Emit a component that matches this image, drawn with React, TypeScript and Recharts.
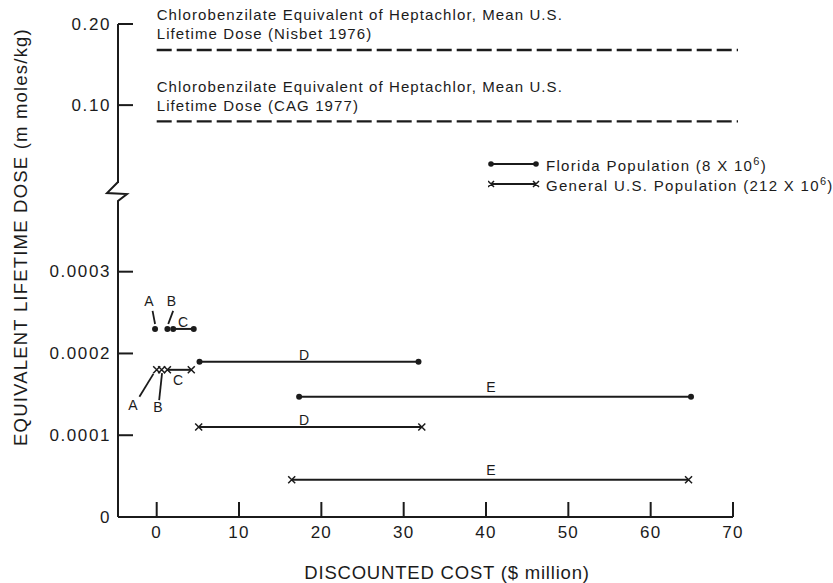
import React from "react";
import { ScatterChart, Scatter, XAxis, YAxis } from "recharts";

const FONT = '"Liberation Sans", Arial, Helvetica, sans-serif';
const INK = "#1b1b1b";

// axis ticks (x: discounted cost, $ million; y: dose, m moles/kg)
const xTicks = [0, 10, 20, 30, 40, 50, 60, 70];
const lowTicks = [0, 0.0001, 0.0002, 0.0003];
const highTicks = [0.1, 0.2];

// chlorobenzilate equivalent of heptachlor, mean U.S. lifetime dose
const nisbetDose = [
  { x: 0, y: 0.168 },
  { x: 70.6, y: 0.168 },
];
const cagDose = [
  { x: 0, y: 0.08 },
  { x: 70.6, y: 0.08 },
];
const nisbetText = ["Chlorobenzilate Equivalent of Heptachlor, Mean U.S.", "Lifetime Dose (Nisbet 1976)"];
const cagText = ["Chlorobenzilate Equivalent of Heptachlor, Mean U.S.", "Lifetime Dose (CAG 1977)"];

// Florida population (8 x 10^6)
const floridaA = [{ x: -0.2, y: 0.00023 }];
const floridaB = [{ x: 1.3, y: 0.00023 }];
const floridaC = [
  { x: 2.0, y: 0.00023 },
  { x: 4.5, y: 0.00023 },
];
const floridaD = [
  { x: 5.2, y: 0.00019 },
  { x: 31.8, y: 0.00019 },
];
const floridaE = [
  { x: 17.3, y: 0.000147 },
  { x: 64.9, y: 0.000147 },
];

// General U.S. population (212 x 10^6)
const generalA = [{ x: 0, y: 0.00018 }];
const generalB = [{ x: 0.6, y: 0.00018 }];
const generalC = [
  { x: 1.3, y: 0.00018 },
  { x: 4.2, y: 0.00018 },
];
const generalD = [
  { x: 5.1, y: 0.00011 },
  { x: 32.2, y: 0.00011 },
];
const generalE = [
  { x: 16.4, y: 0.0000455 },
  { x: 64.6, y: 0.0000455 },
];

// option letters and their leader lines
const floridaTags = [
  { tag: "A", x: -0.95, y: 0.000264 },
  { tag: "B", x: 1.8, y: 0.000264 },
  { tag: "C", x: 3.2, y: 0.000239 },
  { tag: "D", x: 17.9, y: 0.000198 },
  { tag: "E", x: 40.6, y: 0.000159 },
];
const generalTags = [
  { tag: "A", x: -2.9, y: 0.000137 },
  { tag: "B", x: 0.15, y: 0.000134 },
  { tag: "C", x: 2.6, y: 0.000168 },
  { tag: "D", x: 17.9, y: 0.000119 },
  { tag: "E", x: 40.6, y: 0.0000575 },
];
const floridaLeadA = [
  { x: -0.5, y: 0.000252 },
  { x: -0.2, y: 0.000236 },
];
const floridaLeadB = [
  { x: 2.0, y: 0.000252 },
  { x: 1.4, y: 0.000236 },
];
const generalLeadA = [
  { x: -2.1, y: 0.000147 },
  { x: -0.4, y: 0.000175 },
];
const generalLeadB = [
  { x: 0.3, y: 0.000143 },
  { x: 0.65, y: 0.000176 },
];

const dot = (p: any) => <circle cx={p.cx} cy={p.cy} r={3} fill={INK} />;

const cross = (p: any) => {
  const s = 3.5;
  return (
    <path
      d={`M${p.cx - s},${p.cy - s}L${p.cx + s},${p.cy + s}M${p.cx - s},${p.cy + s}L${p.cx + s},${p.cy - s}`}
      stroke={INK}
      strokeWidth={1.5}
    />
  );
};

const none = () => <g />;

const tagShape = (p: any) => (
  <text
    x={p.cx}
    y={p.cy}
    textAnchor="middle"
    dominantBaseline="central"
    fontFamily={FONT}
    fontSize={14}
    fill={INK}
  >
    {p.payload.tag}
  </text>
);

// two lines of caption sitting above the first point of a dashed level
const captionShape = (lines: string[]) => (p: any) =>
  p.index === 0 ? (
    <g fontFamily={FONT} fontSize={15} letterSpacing={1.1} fill={INK}>
      <text x={p.cx} y={p.cy - 35} dominantBaseline="central">
        {lines[0]}
      </text>
      <text x={p.cx} y={p.cy - 16} dominantBaseline="central">
        {lines[1]}
      </text>
    </g>
  ) : (
    <g />
  );

// ticks point inward from the axis, labels sit outside
const leftTick = (fmt: (v: number) => string) => (p: any) => (
  <g>
    <line x1={p.x} x2={p.x + 15} y1={p.y} y2={p.y} stroke={INK} strokeWidth={2} />
    <text
      x={p.x - 7}
      y={p.y}
      textAnchor="end"
      dominantBaseline="central"
      fontFamily={FONT}
      fontSize={17}
      letterSpacing={1.6}
      fill={INK}
    >
      {fmt(p.payload.value)}
    </text>
  </g>
);

const bottomTick = (p: any) => (
  <g>
    <line x1={p.x} x2={p.x} y1={p.y} y2={p.y - 15} stroke={INK} strokeWidth={2} />
    <text
      x={p.x}
      y={p.y + 15}
      textAnchor="middle"
      dominantBaseline="central"
      fontFamily={FONT}
      fontSize={17}
      letterSpacing={1.2}
      fill={INK}
    >
      {p.payload.value}
    </text>
  </g>
);

const segLine = { stroke: INK, strokeWidth: 2 };
const leadLine = { stroke: INK, strokeWidth: 1.8 };
const dashLine = { stroke: INK, strokeWidth: 2.4, strokeDasharray: "15 5" };

function LegendRow({ marker, children }: { marker: "dot" | "cross"; children: React.ReactNode }) {
  return (
    <div style={{ display: "flex", alignItems: "center", height: 20 }}>
      <svg width={52} height={20}>
        <line x1={3} x2={48} y1={10} y2={10} stroke={INK} strokeWidth={2} />
        {marker === "dot" ? (
          <>
            <circle cx={3} cy={10} r={2.8} fill={INK} />
            <circle cx={48} cy={10} r={2.8} fill={INK} />
          </>
        ) : (
          <path d="M0,7L6,13M0,13L6,7M45,7L51,13M45,13L51,7" stroke={INK} strokeWidth={1.5} />
        )}
      </svg>
      <span style={{ marginLeft: 6, fontSize: 15, letterSpacing: 1.3, whiteSpace: "nowrap" }}>{children}</span>
    </div>
  );
}

export default function App() {
  return (
    <div
      style={{
        position: "absolute",
        left: 0,
        top: 0,
        width: 833,
        height: 583,
        background: "#fff",
        fontFamily: FONT,
        color: INK,
      }}
    >
      {/* upper panel: mean U.S. dose levels */}
      <div style={{ position: "absolute", left: 0, top: 0 }}>
        <ScatterChart width={833} height={200} margin={{ top: 24, right: 95, bottom: 17, left: 58 }}>
          <XAxis type="number" dataKey="x" domain={[-4.7, 70.6]} hide />
          <YAxis
            type="number"
            dataKey="y"
            domain={[0.004, 0.2]}
            ticks={highTicks}
            width={60}
            tickSize={0}
            tickMargin={0}
            tickLine={false}
            axisLine={{ stroke: INK, strokeWidth: 2 }}
            tick={leftTick((v) => v.toFixed(2))}
            interval={0}
          />
          <Scatter data={nisbetDose} line={dashLine} shape={captionShape(nisbetText)} isAnimationActive={false} />
          <Scatter data={cagDose} line={dashLine} shape={captionShape(cagText)} isAnimationActive={false} />
        </ScatterChart>
      </div>

      {/* lower panel: cost vs equivalent dose per option */}
      <div style={{ position: "absolute", left: 0, top: 0 }}>
        <ScatterChart width={833} height={583} margin={{ top: 203, right: 100, bottom: 26, left: 58 }}>
          <XAxis
            type="number"
            dataKey="x"
            domain={[-4.7, 70]}
            ticks={xTicks}
            height={40}
            tickSize={0}
            tickMargin={0}
            tickLine={false}
            axisLine={{ stroke: INK, strokeWidth: 2 }}
            tick={bottomTick}
            interval={0}
          />
          <YAxis
            type="number"
            dataKey="y"
            domain={[0, 0.000384]}
            ticks={lowTicks}
            width={60}
            tickSize={0}
            tickMargin={0}
            tickLine={false}
            axisLine={{ stroke: INK, strokeWidth: 2 }}
            tick={leftTick((v) => String(v))}
            interval={0}
          />
          <Scatter data={floridaA} shape={dot} isAnimationActive={false} />
          <Scatter data={floridaB} shape={dot} isAnimationActive={false} />
          <Scatter data={floridaC} line={segLine} shape={dot} isAnimationActive={false} />
          <Scatter data={floridaD} line={segLine} shape={dot} isAnimationActive={false} />
          <Scatter data={floridaE} line={segLine} shape={dot} isAnimationActive={false} />
          <Scatter data={generalA} shape={cross} isAnimationActive={false} />
          <Scatter data={generalB} shape={cross} isAnimationActive={false} />
          <Scatter data={generalC} line={segLine} shape={cross} isAnimationActive={false} />
          <Scatter data={generalD} line={segLine} shape={cross} isAnimationActive={false} />
          <Scatter data={generalE} line={segLine} shape={cross} isAnimationActive={false} />
          <Scatter data={floridaLeadA} line={leadLine} shape={none} isAnimationActive={false} />
          <Scatter data={floridaLeadB} line={leadLine} shape={none} isAnimationActive={false} />
          <Scatter data={generalLeadA} line={leadLine} shape={none} isAnimationActive={false} />
          <Scatter data={generalLeadB} line={leadLine} shape={none} isAnimationActive={false} />
          <Scatter data={floridaTags} shape={tagShape} isAnimationActive={false} />
          <Scatter data={generalTags} shape={tagShape} isAnimationActive={false} />
        </ScatterChart>
      </div>

      {/* axis break and axis titles */}
      <svg width={833} height={583} style={{ position: "absolute", left: 0, top: 0, pointerEvents: "none" }}>
        <path d="M118,182 L107,193 L127,194 L118,201 L118,204" fill="none" stroke={INK} strokeWidth={2} />
        <text
          transform="translate(20,237) rotate(-90)"
          textAnchor="middle"
          dominantBaseline="central"
          fontFamily={FONT}
          fontSize={18.5}
          letterSpacing={1.2}
          fill={INK}
        >
          EQUIVALENT LIFETIME DOSE (m moles/kg)
        </text>
        <text
          x={447}
          y={572}
          textAnchor="middle"
          dominantBaseline="central"
          fontFamily={FONT}
          fontSize={18.5}
          letterSpacing={0.8}
          fill={INK}
        >
          DISCOUNTED COST ($ million)
        </text>
      </svg>

      <div style={{ position: "absolute", left: 488, top: 154 }}>
        <LegendRow marker="dot">
          Florida Population (8 X 10<sup style={{ fontSize: 11 }}>6</sup>)
        </LegendRow>
        <LegendRow marker="cross">
          General U.S. Population (212 X 10<sup style={{ fontSize: 11 }}>6</sup>)
        </LegendRow>
      </div>
    </div>
  );
}
